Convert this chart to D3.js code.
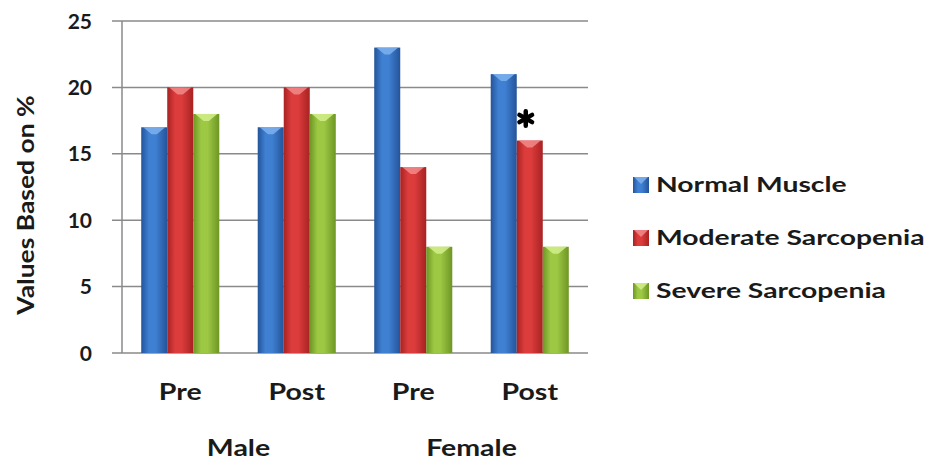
<!DOCTYPE html>
<html>
<head>
<meta charset="utf-8">
<script src="https://cdn.jsdelivr.net/npm/d3@7/dist/d3.min.js"></script>
<style>
  html, body { margin: 0; padding: 0; background: #fff; }
  svg { display: block; }
  text { font-family: Lato, "Open Sans", sans-serif; font-weight: 700; fill: #1a1a1a; }
</style>
</head>
<body>
<svg id="chart" width="927" height="461"></svg>
<script>
// Sarcopenia status before and after, by sex
const groups = ["Male", "Female"];
const categories = ["Pre", "Post", "Pre", "Post"];
const categoryGroup = [0, 0, 1, 1];
const seriesNames = ["Normal Muscle", "Moderate Sarcopenia", "Severe Sarcopenia"];
const normalMuscle = [17, 17, 23, 21];
const moderateSarcopenia = [20, 20, 14, 16];
const severeSarcopenia = [18, 18, 8, 8];
const yTicks = [0, 5, 10, 15, 20, 25];
// Significance marker on the Female Post moderate bar
const markerCategory = 3;
const markerSeries = 1;

const seriesValues = [normalMuscle, moderateSarcopenia, severeSarcopenia];
const palette = [
  { dark: "#24549a", mid: "#3f80d2", light: "#7fb2ee" },
  { dark: "#a82222", mid: "#dc3c3c", light: "#f28a8a" },
  { dark: "#6e9624", mid: "#9cc844", light: "#d4ef8c" }
];

const svg = d3.select("#chart");
const margin = { left: 122, right: 339, top: 21, bottom: 108 };
const W = 927, H = 461;

// Wide-set lettering: text is placed at (x, y) and stretched along its run
function placeText(sel, fx, fy, sx, rot) {
  sel.attr("transform", (d, i) =>
    `translate(${fx(d, i)},${fy(d, i)})` + (rot ? ` rotate(${rot})` : "") + ` scale(${sx},1)`);
}

const x = d3.scaleBand()
  .domain(d3.range(categories.length))
  .range([margin.left, W - margin.right])
  .paddingInner(0.33)
  .paddingOuter(0.165);

const xs = d3.scaleBand()
  .domain(d3.range(seriesNames.length))
  .range([0, x.bandwidth()]);

const y = d3.scaleLinear()
  .domain([0, 25])
  .range([H - margin.bottom, margin.top]);

// Horizontal gradients giving the bars a rounded look
const defs = svg.append("defs");
palette.forEach((p, i) => {
  const g = defs.append("linearGradient")
    .attr("id", "grad" + i)
    .attr("x1", "0%").attr("x2", "100%").attr("y1", "0%").attr("y2", "0%");
  g.append("stop").attr("offset", "0%").attr("stop-color", p.dark);
  g.append("stop").attr("offset", "30%").attr("stop-color", p.mid);
  g.append("stop").attr("offset", "55%").attr("stop-color", p.mid);
  g.append("stop").attr("offset", "100%").attr("stop-color", p.dark);
});

// Gridlines with short ticks to the left of the axis
svg.append("g").selectAll("line")
  .data(yTicks)
  .join("line")
  .attr("x1", margin.left - 10)
  .attr("x2", W - margin.right)
  .attr("y1", d => y(d))
  .attr("y2", d => y(d))
  .attr("stroke", "#8a8a8a")
  .attr("stroke-width", 1.5);

// Vertical axis line
svg.append("line")
  .attr("x1", margin.left).attr("x2", margin.left)
  .attr("y1", y(25)).attr("y2", y(0))
  .attr("stroke", "#8a8a8a")
  .attr("stroke-width", 1.5);

// Tick labels
svg.append("g").selectAll("text")
  .data(yTicks)
  .join("text")
  .attr("x", margin.left - 30)
  .attr("y", d => y(d))
  .attr("dy", "0.36em")
  .attr("text-anchor", "end")
  .attr("font-size", 21)
  .text(d => d);

// Axis title
svg.append("text")
  .datum("Values Based on %")
  .attr("text-anchor", "middle")
  .attr("font-size", 23)
  .text(d => d)
  .call(placeText, () => 34, () => 205, 1.15, -90);

// Bars
const barData = [];
categories.forEach((c, ci) => {
  seriesValues.forEach((vals, si) => {
    barData.push({ ci, si, v: vals[ci] });
  });
});

const bars = svg.append("g").selectAll("g")
  .data(barData)
  .join("g");

bars.append("rect")
  .attr("x", d => x(d.ci) + xs(d.si))
  .attr("y", d => y(d.v))
  .attr("width", xs.bandwidth())
  .attr("height", d => y(0) - y(d.v))
  .attr("fill", d => `url(#grad${d.si})`);

// Bevelled top cap
bars.append("path")
  .attr("d", d => {
    const x0 = x(d.ci) + xs(d.si), w = xs.bandwidth(), t = y(d.v);
    return `M${x0 + 2},${t} L${x0 + w - 2},${t} L${x0 + w * 0.6},${t + 7} L${x0 + w * 0.4},${t + 7} Z`;
  })
  .attr("fill", d => palette[d.si].light)
  .attr("opacity", 0.85);

// Significance marker
svg.append("path")
  .attr("d", d3.symbol(d3.symbolAsterisk, 150)())
  .attr("transform", `translate(${x(markerCategory) + xs(markerSeries) + xs.bandwidth() / 2 - 4},${y(moderateSarcopenia[markerCategory]) - 22})`)
  .attr("stroke", "#000")
  .attr("stroke-width", 4.5)
  .attr("stroke-linecap", "round")
  .attr("fill", "none");

// Category labels
svg.append("g").selectAll("text")
  .data(categories)
  .join("text")
  .attr("text-anchor", "middle")
  .attr("font-size", 23)
  .text(d => d)
  .call(placeText, (d, i) => x(i) + x.bandwidth() / 2, () => 400, 1.24);

// Group labels centred under their categories
svg.append("g").selectAll("text")
  .data(groups)
  .join("text")
  .attr("text-anchor", "middle")
  .attr("font-size", 23)
  .text(d => d)
  .call(placeText, (d, gi) => {
    const idx = d3.range(categories.length).filter(i => categoryGroup[i] === gi);
    return d3.mean(idx, i => x(i) + x.bandwidth() / 2);
  }, () => 456, 1.24);

// Legend
const legend = svg.append("g").attr("transform", "translate(633,0)");
const legendRows = legend.selectAll("g")
  .data(seriesNames)
  .join("g")
  .attr("transform", (d, i) => `translate(0,${192 + i * 53})`);

legendRows.append("rect")
  .attr("x", 0).attr("y", -15)
  .attr("width", 16).attr("height", 16)
  .attr("fill", (d, i) => `url(#grad${i})`);

legendRows.append("path")
  .attr("d", "M1,-15 L15,-15 L8,-8 Z")
  .attr("fill", (d, i) => palette[i].light)
  .attr("opacity", 0.85);

legendRows.append("text")
  .attr("font-size", 20.5)
  .text(d => d)
  .call(placeText, () => 23, () => 0, 1.38);
</script>
</body>
</html>
